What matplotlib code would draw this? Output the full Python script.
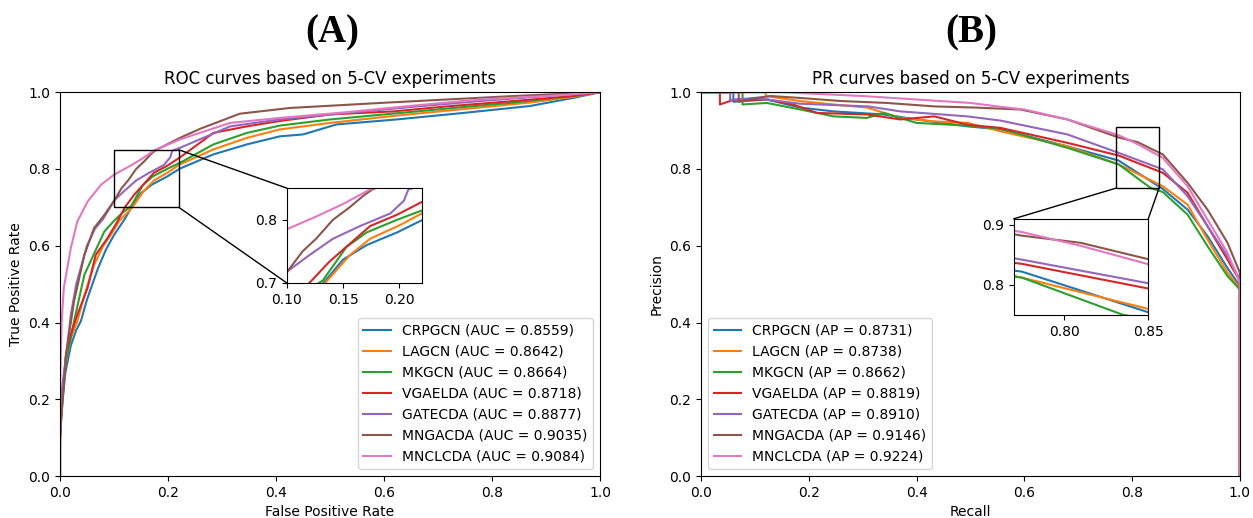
import matplotlib
matplotlib.use("Agg")
import matplotlib.pyplot as plt
from matplotlib.patches import Rectangle, ConnectionPatch

MODELS = ["CRPGCN", "LAGCN", "MKGCN", "VGAELDA", "GATECDA", "MNGACDA", "MNCLCDA"]
AUC = [0.8559, 0.8642, 0.8664, 0.8718, 0.8877, 0.9035, 0.9084]
AP = [0.8731, 0.8738, 0.8662, 0.8819, 0.8910, 0.9146, 0.9224]

# ROC curves (fpr, tpr)
fpr_crpgcn = [0, 0, 0.005, 0.01, 0.02, 0.03, 0.0385, 0.05, 0.07, 0.085, 0.10, 0.12, 0.132, 0.15, 0.171, 0.198, 0.222, 0.284, 0.346, 0.407, 0.45, 0.512, 0.623, 0.747, 0.87, 0.95, 1.0]
tpr_crpgcn = [0, 0.12, 0.20, 0.27, 0.34, 0.38, 0.403, 0.46, 0.54, 0.59, 0.628, 0.67, 0.699, 0.737, 0.76, 0.78, 0.801, 0.838, 0.864, 0.885, 0.89, 0.916, 0.929, 0.946, 0.964, 0.985, 1.0]

fpr_lagcn = [0, 0, 0.005, 0.01, 0.02, 0.032, 0.045, 0.063, 0.08, 0.094, 0.11, 0.134, 0.156, 0.174, 0.201, 0.222, 0.284, 0.346, 0.407, 0.5, 0.623, 0.747, 0.87, 0.95, 1.0]
tpr_lagcn = [0, 0.12, 0.22, 0.29, 0.36, 0.403, 0.47, 0.55, 0.60, 0.628, 0.665, 0.70, 0.744, 0.77, 0.792, 0.812, 0.851, 0.881, 0.903, 0.92, 0.939, 0.956, 0.973, 0.988, 1.0]

fpr_mkgcn = [0, 0, 0.005, 0.01, 0.02, 0.026, 0.045, 0.06, 0.082, 0.10, 0.115, 0.132, 0.153, 0.171, 0.198, 0.222, 0.284, 0.346, 0.407, 0.5, 0.63, 0.76, 0.84, 0.95, 1.0]
tpr_mkgcn = [0, 0.10, 0.22, 0.29, 0.36, 0.403, 0.524, 0.57, 0.637, 0.665, 0.685, 0.704, 0.757, 0.78, 0.80, 0.816, 0.864, 0.894, 0.913, 0.929, 0.946, 0.963, 0.973, 0.99, 1.0]

fpr_vgaelda = [0, 0, 0.0025, 0.011, 0.02, 0.032, 0.051, 0.066, 0.088, 0.105, 0.12, 0.138, 0.156, 0.174, 0.198, 0.222, 0.284, 0.346, 0.407, 0.5, 0.617, 0.716, 0.84, 0.95, 1.0]
tpr_vgaelda = [0, 0.08, 0.177, 0.316, 0.37, 0.42, 0.49, 0.576, 0.62, 0.66, 0.70, 0.734, 0.762, 0.79, 0.808, 0.83, 0.894, 0.911, 0.925, 0.942, 0.95, 0.963, 0.977, 0.99, 1.0]

fpr_gatecda = [0, 0, 0.003, 0.01, 0.02, 0.03, 0.05, 0.065, 0.08, 0.101, 0.12, 0.141, 0.165, 0.192, 0.204, 0.208, 0.222, 0.315, 0.407, 0.531, 0.654, 0.778, 0.9, 1.0]
tpr_gatecda = [0, 0.12, 0.22, 0.30, 0.42, 0.50, 0.60, 0.645, 0.67, 0.719, 0.744, 0.77, 0.79, 0.81, 0.83, 0.848, 0.855, 0.911, 0.929, 0.946, 0.962, 0.977, 0.99, 1.0]

fpr_mngacda = [0, 0, 0.002, 0.011, 0.02, 0.026, 0.045, 0.063, 0.082, 0.10, 0.114, 0.126, 0.141, 0.156, 0.168, 0.176, 0.222, 0.26, 0.333, 0.426, 0.593, 0.716, 0.84, 1.0]
tpr_mngacda = [0, 0.10, 0.142, 0.316, 0.40, 0.455, 0.576, 0.646, 0.68, 0.717, 0.75, 0.77, 0.80, 0.82, 0.838, 0.848, 0.881, 0.905, 0.944, 0.959, 0.972, 0.981, 0.99, 1.0]

fpr_mnclcda = [0, 0, 0.001, 0.003, 0.007, 0.02, 0.032, 0.051, 0.076, 0.10, 0.126, 0.15, 0.174, 0.222, 0.315, 0.407, 0.531, 0.654, 0.778, 0.901, 1.0]
tpr_mnclcda = [0, 0.20, 0.29, 0.40, 0.49, 0.594, 0.663, 0.715, 0.759, 0.785, 0.805, 0.825, 0.848, 0.877, 0.92, 0.933, 0.948, 0.965, 0.981, 0.99, 1.0]

# PR curves (recall, precision)
rec_crpgcn = [0, 0.06, 0.06, 0.122, 0.184, 0.246, 0.339, 0.4, 0.495, 0.556, 0.68, 0.775, 0.857, 0.903, 0.94, 0.977, 1.0, 1.0]
pre_crpgcn = [1.0, 1.0, 0.975, 0.981, 0.96, 0.95, 0.942, 0.929, 0.911, 0.903, 0.859, 0.822, 0.748, 0.694, 0.625, 0.542, 0.495, 0.0]

rec_lagcn = [0, 0.12, 0.12, 0.184, 0.246, 0.308, 0.37, 0.433, 0.495, 0.556, 0.68, 0.775, 0.857, 0.903, 0.94, 0.977, 1.0, 1.0]
pre_lagcn = [1.0, 1.0, 0.99, 0.977, 0.968, 0.96, 0.933, 0.924, 0.92, 0.898, 0.859, 0.812, 0.755, 0.707, 0.616, 0.53, 0.49, 0.0]

rec_mkgcn = [0, 0.077, 0.077, 0.122, 0.184, 0.246, 0.308, 0.339, 0.4, 0.495, 0.556, 0.68, 0.775, 0.835, 0.857, 0.903, 0.94, 0.977, 1.0, 1.0]
pre_mkgcn = [1.0, 1.0, 0.968, 0.972, 0.955, 0.937, 0.933, 0.946, 0.92, 0.913, 0.905, 0.855, 0.812, 0.75, 0.74, 0.681, 0.599, 0.521, 0.486, 0.0]

rec_vgaelda = [0, 0.035, 0.035, 0.06, 0.122, 0.171, 0.215, 0.308, 0.37, 0.433, 0.495, 0.556, 0.68, 0.775, 0.857, 0.903, 0.94, 0.977, 1.0, 1.0]
pre_vgaelda = [1.0, 1.0, 0.968, 0.98, 0.981, 0.968, 0.946, 0.942, 0.929, 0.937, 0.915, 0.907, 0.868, 0.835, 0.79, 0.738, 0.651, 0.564, 0.508, 0.0]

rec_gatecda = [0, 0.054, 0.054, 0.1, 0.184, 0.31, 0.37, 0.495, 0.556, 0.68, 0.775, 0.857, 0.903, 0.94, 0.977, 1.0, 1.0]
pre_gatecda = [1.0, 1.0, 0.98, 0.985, 0.97, 0.963, 0.95, 0.937, 0.926, 0.89, 0.842, 0.799, 0.729, 0.651, 0.573, 0.512, 0.0]

rec_mngacda = [0, 0.07, 0.07, 0.1, 0.13, 0.184, 0.26, 0.345, 0.433, 0.508, 0.593, 0.68, 0.775, 0.81, 0.857, 0.903, 0.94, 0.977, 1.0, 1.0]
pre_mngacda = [1.0, 1.0, 0.975, 0.985, 0.99, 0.985, 0.977, 0.972, 0.963, 0.96, 0.955, 0.929, 0.882, 0.87, 0.838, 0.764, 0.694, 0.608, 0.53, 0.0]

rec_mnclcda = [0, 0.15, 0.3, 0.4, 0.5, 0.556, 0.6, 0.68, 0.775, 0.81, 0.857, 0.903, 0.94, 0.977, 1.0, 1.0]
pre_mnclcda = [1.0, 1.0, 0.99, 0.981, 0.972, 0.962, 0.955, 0.929, 0.888, 0.865, 0.829, 0.755, 0.668, 0.582, 0.504, 0.0]

ROC = [(fpr_crpgcn, tpr_crpgcn), (fpr_lagcn, tpr_lagcn), (fpr_mkgcn, tpr_mkgcn),
       (fpr_vgaelda, tpr_vgaelda), (fpr_gatecda, tpr_gatecda),
       (fpr_mngacda, tpr_mngacda), (fpr_mnclcda, tpr_mnclcda)]
PR = [(rec_crpgcn, pre_crpgcn), (rec_lagcn, pre_lagcn), (rec_mkgcn, pre_mkgcn),
      (rec_vgaelda, pre_vgaelda), (rec_gatecda, pre_gatecda),
      (rec_mngacda, pre_mngacda), (rec_mnclcda, pre_mnclcda)]


def zoom_box(fig, ax, axins, x0, x1, y0, y1, links):
    ax.add_patch(Rectangle((x0, y0), x1 - x0, y1 - y0, fill=False, ec='black', lw=1, zorder=5))
    for pa, pb in links:
        con = ConnectionPatch(xyA=pa, coordsA=ax.transData, xyB=pb, coordsB=axins.transAxes,
                              color='black', lw=1)
        fig.add_artist(con)


fig = plt.figure(figsize=(12.53, 5.18), dpi=100)
ax1 = fig.add_axes([0.0479, 0.081, 0.431, 0.741])
ax2 = fig.add_axes([0.5595, 0.081, 0.430, 0.741])

# (A) ROC
for name, auc, (x, y) in zip(MODELS, AUC, ROC):
    ax1.plot(x, y, label=f"{name} (AUC = {auc:.4f})")
ax1.set_xlim(0, 1)
ax1.set_ylim(0, 1)
ax1.set_xlabel("False Positive Rate")
ax1.set_ylabel("True Positive Rate")
ax1.set_title("ROC curves based on 5-CV experiments")
ax1.legend(loc='lower right')

ins1 = ax1.inset_axes([0.42, 0.503, 0.25, 0.247])
for x, y in ROC:
    ins1.plot(x, y)
ins1.set_xlim(0.10, 0.22)
ins1.set_ylim(0.70, 0.85)
ins1.set_xticks([0.10, 0.15, 0.20])
ins1.set_yticks([0.7, 0.8])
zoom_box(fig, ax1, ins1, 0.10, 0.22, 0.70, 0.85,
         [((0.22, 0.85), (0, 1)), ((0.22, 0.70), (0, 0))])

# (B) PR
for name, ap, (x, y) in zip(MODELS, AP, PR):
    ax2.plot(x, y, label=f"{name} (AP = {ap:.4f})")
ax2.set_xlim(0, 1)
ax2.set_ylim(0, 1)
ax2.set_xlabel("Recall")
ax2.set_ylabel("Precision")
ax2.set_title("PR curves based on 5-CV experiments")
ax2.legend(loc='lower left')

ins2 = ax2.inset_axes([0.58, 0.42, 0.25, 0.25])
for x, y in PR:
    ins2.plot(x, y)
ins2.set_xlim(0.77, 0.85)
ins2.set_ylim(0.75, 0.91)
ins2.set_xticks([0.80, 0.85])
ins2.set_yticks([0.8, 0.9])
zoom_box(fig, ax2, ins2, 0.77, 0.85, 0.75, 0.91,
         [((0.77, 0.75), (0, 1)), ((0.85, 0.75), (1, 1))])

fig.text(0.265, 0.936, "(A)", ha='center', va='center', fontsize=28, fontweight='bold',
         family='Liberation Serif')
fig.text(0.775, 0.936, "(B)", ha='center', va='center', fontsize=28, fontweight='bold',
         family='Liberation Serif')

fig.savefig("out.png", dpi=100)
